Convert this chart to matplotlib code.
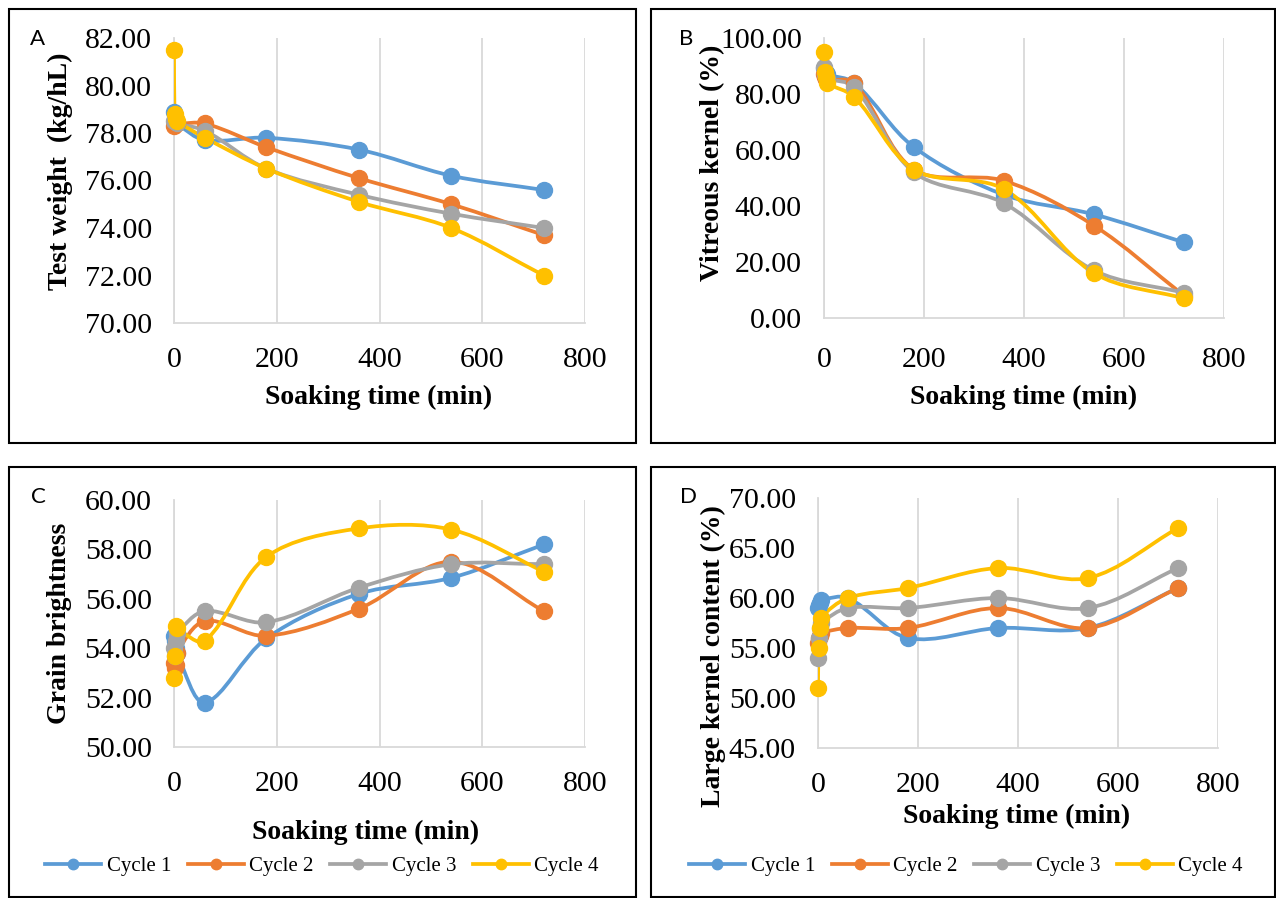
import numpy as np
import matplotlib
matplotlib.use("Agg")
import matplotlib.pyplot as plt
from matplotlib.path import Path
from matplotlib.patches import PathPatch, Rectangle
from matplotlib.lines import Line2D
from matplotlib.ticker import FormatStrFormatter

# --------------------------------------------------
# Data
# --------------------------------------------------

soak_time = [0, 1, 3, 5, 60, 180, 360, 540, 720]

cycles = ["Cycle 1", "Cycle 2", "Cycle 3", "Cycle 4"]

test_weight = {
    "Cycle 1": [78.9, 78.6, 78.5, 78.4, 77.7, 77.8, 77.3, 76.2, 75.6],
    "Cycle 2": [78.3, 78.4, 78.5, 78.4, 78.4, 77.4, 76.1, 75.0, 73.7],
    "Cycle 3": [78.5, 78.6, 78.5, 78.4, 78.1, 76.5, 75.4, 74.6, 74.0],
    "Cycle 4": [81.5, 78.8, 78.6, 78.5, 77.8, 76.5, 75.1, 74.0, 72.0],
}

vitreous = {
    "Cycle 1": [89.3, 88.0, 87.5, 87.0, 84.0, 61.0, 44.0, 37.0, 27.0],
    "Cycle 2": [87.0, 86.0, 85.5, 85.0, 84.0, 53.0, 49.0, 33.0, 8.0],
    "Cycle 3": [89.5, 87.0, 86.0, 85.5, 82.5, 52.0, 41.0, 17.0, 9.0],
    "Cycle 4": [95.0, 88.0, 86.0, 84.0, 79.0, 53.0, 46.0, 16.0, 7.0],
}

brightness = {
    "Cycle 1": [54.5, 54.3, 54.0, 53.8, 51.8, 54.4, 56.2, 56.85, 58.2],
    "Cycle 2": [53.4, 53.2, 53.3, 53.8, 55.1, 54.5, 55.6, 57.5, 55.5],
    "Cycle 3": [54.0, 53.7, 54.3, 54.6, 55.5, 55.05, 56.45, 57.4, 57.4],
    "Cycle 4": [52.8, 53.7, 54.9, 54.8, 54.3, 57.7, 58.85, 58.8, 57.1],
}

large_kernel = {
    "Cycle 1": [59.0, 59.3, 59.5, 59.8, 60.0, 56.0, 57.0, 57.0, 61.0],
    "Cycle 2": [55.5, 56.0, 56.2, 56.5, 57.0, 57.0, 59.0, 57.0, 61.0],
    "Cycle 3": [54.0, 56.0, 57.0, 57.5, 59.0, 59.0, 60.0, 59.0, 63.0],
    "Cycle 4": [51.0, 55.0, 57.0, 58.0, 60.0, 61.0, 63.0, 62.0, 67.0],
}

COLORS = {
    "Cycle 1": "#5B9BD5",
    "Cycle 2": "#ED7D31",
    "Cycle 3": "#A5A5A5",
    "Cycle 4": "#FFC000",
}

# --------------------------------------------------
# Figure setup
# --------------------------------------------------

W, H = 1276, 898
DPI = 100

plt.rcParams["font.family"] = ["Liberation Serif", "DejaVu Serif"]

fig = plt.figure(figsize=(W / DPI, H / DPI), dpi=DPI)
fig.patch.set_facecolor("white")


def add_axes_px(left, right, top, bottom):
    return fig.add_axes([left / W, 1 - bottom / H, (right - left) / W, (bottom - top) / H])


def smooth_path(ax, x, y):
    # Excel-like smoothed line: cubic Bezier through the points,
    # tangents computed in screen space
    pts = ax.transData.transform(np.column_stack([x, y]))
    n = len(pts)
    tang = []
    for i in range(n):
        a = pts[max(i - 1, 0)]
        b = pts[min(i + 1, n - 1)]
        span = np.linalg.norm(pts[min(i + 1, n - 1)] - pts[i]) + np.linalg.norm(pts[i] - pts[max(i - 1, 0)])
        tang.append((b - a) / span if span > 0 else np.zeros(2))
    verts = [pts[0]]
    codes = [Path.MOVETO]
    for i in range(n - 1):
        seg = np.linalg.norm(pts[i + 1] - pts[i])
        c1 = pts[i] + tang[i] * seg / 3
        c2 = pts[i + 1] - tang[i + 1] * seg / 3
        verts += [c1, c2, pts[i + 1]]
        codes += [Path.CURVE4] * 3
    verts = ax.transData.inverted().transform(np.array(verts))
    return Path(verts, codes)


def panel(box, data, ylim, ystep, ylabel, letter, letter_px, ylab_px, xlab_px,
          xpad=17, legend_px=None):

    left, right, top, bottom = box
    ax = add_axes_px(left, right, top, bottom)

    ax.set_xlim(0, 800)
    ax.set_ylim(*ylim)
    ax.set_xticks(np.arange(0, 801, 200))
    ax.set_yticks(np.arange(ylim[0], ylim[1] + 0.01, ystep))
    ax.yaxis.set_major_formatter(FormatStrFormatter("%.2f"))

    ax.tick_params(axis="both", length=0, labelsize=21.5)
    ax.tick_params(axis="x", pad=xpad)
    ax.tick_params(axis="y", pad=16)

    ax.xaxis.grid(True, color="#D9D9D9", linewidth=1.3)
    ax.set_axisbelow(True)
    for side in ["top", "right"]:
        ax.spines[side].set_visible(False)
    for side in ["left", "bottom"]:
        ax.spines[side].set_color("#D9D9D9")
        ax.spines[side].set_linewidth(1.3)

    for name in cycles:
        x = soak_time
        y = data[name]
        ax.add_patch(
            PathPatch(
                smooth_path(ax, x, y),
                facecolor="none",
                edgecolor=COLORS[name],
                linewidth=2.7,
                capstyle="round",
                joinstyle="round",
                zorder=3,
            )
        )
        ax.plot(
            x,
            y,
            linestyle="none",
            marker="o",
            markersize=11.5,
            color=COLORS[name],
            zorder=4,
            clip_on=False,
        )

    ax.set_xlabel("Soaking time (min)", fontsize=20, fontweight="bold", va="center")
    ax.xaxis.set_label_coords(
        (xlab_px[0] - left) / (right - left), (bottom - xlab_px[1]) / (bottom - top)
    )

    ax.set_ylabel(ylabel, fontsize=20, fontweight="bold", va="center")
    ax.yaxis.set_label_coords(
        (ylab_px[0] - left) / (right - left), (bottom - ylab_px[1]) / (bottom - top)
    )

    fig.text(
        letter_px[0] / W,
        1 - letter_px[1] / H,
        letter,
        fontsize=16,
        family=["Lato", "DejaVu Sans"],
        ha="center",
        va="center",
    )

    if legend_px is not None:
        handles = [
            Line2D([0], [0], color=COLORS[name], linewidth=2.7, marker="o", markersize=7.5)
            for name in cycles
        ]
        fig.legend(
            handles,
            cycles,
            loc="center",
            bbox_to_anchor=(legend_px[0] / W, 1 - legend_px[1] / H),
            ncol=4,
            frameon=False,
            fontsize=15,
            handlelength=2.7,
            handletextpad=0.25,
            columnspacing=0.8,
        )

    return ax


# --------------------------------------------------
# Panel frames
# --------------------------------------------------

frames = [
    (9, 9, 627, 434),
    (651, 9, 624, 434),
    (9, 467, 627, 430),
    (651, 467, 624, 430),
]

for fx, fy, fw, fh in frames:
    fig.add_artist(
        Rectangle(
            (fx / W, 1 - (fy + fh) / H),
            fw / W,
            fh / H,
            transform=fig.transFigure,
            facecolor="none",
            edgecolor="black",
            linewidth=1.5,
        )
    )

# --------------------------------------------------
# Panels
# --------------------------------------------------

panel(
    (174, 585, 38, 323), test_weight, (70, 82), 2,
    "Test weight  (kg/hL)", "A", (38, 39), (60, 171), (379, 397),
    xpad=17,
)

panel(
    (824, 1224, 38, 318), vitreous, (0, 100), 20,
    "Vitreous kernel (%)", "B", (686, 39), (713, 163), (1024, 397),
    xpad=21,
)

panel(
    (174, 585, 500, 747), brightness, (50, 60), 2,
    "Grain brightness", "C", (38, 497), (60, 623), (366, 832),
    xpad=17, legend_px=(322, 866),
)

panel(
    (818, 1218, 498, 748), large_kernel, (45, 70), 5,
    "Large kernel content (%)", "D", (688, 497), (713, 656), (1017, 816),
    xpad=17, legend_px=(966, 866),
)

fig.savefig("out.png", dpi=DPI)
